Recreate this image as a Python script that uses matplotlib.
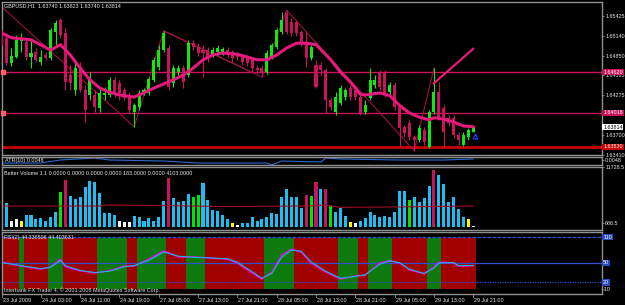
"""
GBPUSD H1 terminal screenshot: candles + MA, ATR, Better Volume, RSI panels.
Writes: out.png
"""

import matplotlib
matplotlib.use("Agg")
import matplotlib.pyplot as plt

plt.rcParams["font.family"] = ["Liberation Sans", "DejaVu Sans"]

# ---- candles, one per H1 bar (bar 0 = 23 Jul 19:00) ----
opens = [1.6515, 1.6511, 1.6474, 1.6483, 1.6506, 1.6505, 1.6483, 1.6490, 1.6476, 1.6486,
         1.6482, 1.6519, 1.6537, 1.6518, 1.6457, 1.6435, 1.6469, 1.6435, 1.6428, 1.6428,
         1.6409, 1.6428, 1.6428, 1.6450, 1.6445, 1.6435, 1.6428, 1.6403, 1.6411, 1.6431,
         1.6431, 1.6450, 1.6469, 1.6493, 1.6496, 1.6445, 1.6461, 1.6467, 1.6457, 1.6503,
         1.6498, 1.6493, 1.6493, 1.6486, 1.6490, 1.6490, 1.6493, 1.6490, 1.6486, 1.6483,
         1.6482, 1.6479, 1.6467, 1.6467, 1.6461, 1.6483, 1.6498, 1.6519, 1.6547, 1.6534,
         1.6534, 1.6519, 1.6503, 1.6482, 1.6471, 1.6471, 1.6464, 1.6421, 1.6403, 1.6416,
         1.6425, 1.6438, 1.6435, 1.6425, 1.6403, 1.6424, 1.6442, 1.6461, 1.6460, 1.6432,
         1.6442, 1.6411, 1.6382, 1.6387, 1.6367, 1.6363, 1.6377, 1.6353, 1.6403, 1.6432,
         1.6409, 1.6395, 1.6395, 1.6370, 1.6355, 1.6367, 1.63740]
highs = [1.6522, 1.6518, 1.6496, 1.6515, 1.6518, 1.6511, 1.6508, 1.6496, 1.6493, 1.6490,
         1.6525, 1.6537, 1.6540, 1.6525, 1.6471, 1.6476, 1.6476, 1.6442, 1.6461, 1.6435,
         1.6438, 1.6440, 1.6454, 1.6454, 1.6450, 1.6440, 1.6432, 1.6416, 1.6435, 1.6438,
         1.6454, 1.6483, 1.6501, 1.6521, 1.6501, 1.6471, 1.6471, 1.6471, 1.6508, 1.6508,
         1.6503, 1.6501, 1.6498, 1.6498, 1.6501, 1.6498, 1.6498, 1.6493, 1.6490, 1.6486,
         1.6486, 1.6483, 1.6471, 1.6471, 1.6493, 1.6503, 1.6525, 1.6548, 1.6551, 1.6540,
         1.6537, 1.6522, 1.6519, 1.6501, 1.6479, 1.6476, 1.6467, 1.6425, 1.6432, 1.6442,
         1.6438, 1.6442, 1.6440, 1.6428, 1.6421, 1.6467, 1.6457, 1.6464, 1.6464, 1.6447,
         1.6447, 1.6413, 1.6384, 1.6392, 1.6370, 1.6384, 1.6382, 1.6406, 1.6467, 1.6447,
         1.6413, 1.6399, 1.6399, 1.6374, 1.6374, 1.6380, 1.63823]
lows = [1.6501, 1.6471, 1.6470, 1.6482, 1.6490, 1.6479, 1.6467, 1.6476, 1.6471, 1.6479,
        1.6479, 1.6498, 1.6511, 1.6435, 1.6435, 1.6428, 1.6432, 1.6389, 1.6421, 1.6403,
        1.6403, 1.6421, 1.6425, 1.6425, 1.6421, 1.6421, 1.6402, 1.6382, 1.6406, 1.6428,
        1.6428, 1.6447, 1.6464, 1.6490, 1.6435, 1.6440, 1.6457, 1.6438, 1.6454, 1.6493,
        1.6485, 1.6454, 1.6476, 1.6483, 1.6486, 1.6486, 1.6483, 1.6476, 1.6479, 1.6471,
        1.6470, 1.6461, 1.6460, 1.6454, 1.6458, 1.6480, 1.6495, 1.6516, 1.6516, 1.6514,
        1.6514, 1.6499, 1.6469, 1.6479, 1.6438, 1.6457, 1.6402, 1.6406, 1.6399, 1.6413,
        1.6421, 1.6421, 1.6421, 1.6399, 1.6400, 1.6421, 1.6438, 1.6435, 1.6425, 1.6428,
        1.6406, 1.6353, 1.6367, 1.6363, 1.6347, 1.6360, 1.6355, 1.6351, 1.6400, 1.6392,
        1.6353, 1.6383, 1.6366, 1.6355, 1.6354, 1.6363, 1.63740]
closes = [1.6505, 1.6474, 1.6485, 1.6508, 1.6508, 1.6483, 1.6489, 1.6479, 1.6483, 1.6482,
          1.6522, 1.6532, 1.6515, 1.6447, 1.6445, 1.6467, 1.6435, 1.6406, 1.6450, 1.6411,
          1.6431, 1.6431, 1.6450, 1.6431, 1.6431, 1.6424, 1.6406, 1.6413, 1.6431, 1.6435,
          1.6451, 1.6479, 1.6493, 1.6518, 1.6440, 1.6467, 1.6467, 1.6447, 1.6503, 1.6498,
          1.6489, 1.6489, 1.6482, 1.6493, 1.6496, 1.6495, 1.6486, 1.6482, 1.6483, 1.6476,
          1.6474, 1.6467, 1.6464, 1.6461, 1.6489, 1.6501, 1.6522, 1.6537, 1.6519, 1.6518,
          1.6518, 1.6503, 1.6482, 1.6498, 1.6440, 1.6464, 1.6421, 1.6411, 1.6425, 1.6438,
          1.6435, 1.6425, 1.6425, 1.6402, 1.6413, 1.6450, 1.6450, 1.6440, 1.6428, 1.6442,
          1.6411, 1.6380, 1.6373, 1.6367, 1.6363, 1.6380, 1.6360, 1.6403, 1.6432, 1.6395,
          1.6374, 1.6387, 1.6370, 1.6363, 1.6370, 1.6377, 1.63814]

# moving average on price (read at selected bars)
ma_bars = [0, 2, 6, 10, 12, 14, 16, 18, 20, 22, 24, 27, 29, 31, 33, 35, 37, 39, 41, 43,
           45, 48, 50, 52, 54, 56, 58, 60, 62, 64, 67, 69, 71, 73, 74, 77, 79, 81, 83, 85,
           87, 88, 90, 92, 94, 96]
ma_vals = [1.6518, 1.6511, 1.6508, 1.6493, 1.6501, 1.6486, 1.6467, 1.6450, 1.6438, 1.6432,
           1.6428, 1.6425, 1.6431, 1.6438, 1.6444, 1.6450, 1.6457, 1.6467, 1.6479, 1.6486,
           1.6489, 1.6487, 1.6483, 1.6479, 1.6479, 1.6486, 1.6496, 1.6503, 1.6503, 1.6501,
           1.6479, 1.6461, 1.6447, 1.6429, 1.6428, 1.6431, 1.6427, 1.6413, 1.6402, 1.6396,
           1.6392, 1.6395, 1.6393, 1.6389, 1.6383, 1.6382]

# zigzag pivots, extra channel line, user trend line
zz_bars = [0, 27, 33, 53, 58, 84, 88]
zz_vals = [1.6556, 1.6382, 1.6521, 1.6454, 1.6551, 1.6347, 1.6467]
chan_bars = [33, 51]
chan_vals = [1.6521, 1.6461]
trend_bars = [88, 96]
trend_vals = [1.6445, 1.6495]

levels = [1.6461, 1.6402]
level_labels = ["1.64620", "1.64018"]
support = 1.6353
support_label = "1.63530"
last_price = 1.63814
# 1.63985 sits under the 1.64018 tag in the terminal, so it is left out
price_ticks = [1.65425, 1.65140, 1.64850, 1.64565, 1.64275, 1.63700, 1.63410]

# ATR(10)
atr_bars = [0, 8, 12, 19, 22, 33, 40, 54, 55, 57, 65, 66, 69, 81, 90, 96]
atr_vals = [0.0042, 0.0042, 0.0048, 0.0052, 0.0048, 0.0046, 0.0042, 0.0042, 0.0038, 0.0046,
            0.0044, 0.0052, 0.0050, 0.0048, 0.0048, 0.0050]

# Better Volume
volumes = [2340, 4680, 1170, 1560, 1170, 2340, 2340, 1560, 1755, 1170,
           1950, 2925, 6825, 9165, 6045, 5460, 5850, 7800, 8970, 8775,
           6630, 2730, 2730, 2340, 1170, 975, 975, 2145, 1950, 1170,
           1755, 1170, 1950, 5070, 9555, 5655, 4875, 5070, 6435, 5850,
           6240, 8580, 5265, 3315, 3120, 2340, 1560, 780, 390, 780,
           780, 1950, 1170, 1560, 1950, 2730, 2535, 5850, 7410, 5850,
           5850, 3705, 6240, 6045, 8775, 7410, 7410, 4095, 2925, 3705,
           2145, 975, 780, 1170, 1755, 2925, 2340, 1950, 2145, 1950,
           2925, 7020, 7020, 5265, 5850, 4875, 5655, 7995, 11115, 10140,
           8385, 4875, 5850, 3510, 1950, 1560, 183]
vol_kinds = list("ccwwy" "ccccccc" "gr" "cccccccccc" "www" "ccccccc" "r" "cccc" "gg"
                 "cccccc" "yw" "ccccccccccccc" "rgrcrg" "ccc" "yw" "cccccccccc" "g"
                 "cccc" "r" "cccccc" "yw")
vma_bars = [0, 20, 21, 33, 45, 62, 66, 69, 78, 96]
vma_vals = [4100, 4100, 4300, 4200, 4000, 4100, 4300, 3850, 3900, 4103]

# RSI(2) with signal, green/red state bands
rsi_bars = [0, 4, 8, 10, 12, 13, 16, 19, 22, 25, 27, 30, 33, 36, 39, 42, 46, 48, 51, 53,
            55, 57, 59, 61, 63, 66, 69, 72, 74, 77, 79, 81, 83, 86, 88, 89, 92, 93, 96]
rsi_main = [52, 43, 36, 41, 59, 41, 32, 27, 32, 43, 43, 59, 78, 64, 64, 62, 59, 50, 27, 13,
            29, 68, 82, 75, 50, 29, 13, 20, 22, 50, 55, 50, 34, 25, 41, 52, 50, 43, 44]
rsi_signal = [51, 44, 37, 40, 56, 44, 33, 28, 31, 41, 44, 56, 75, 66, 63, 62, 60, 52, 30, 15,
              26, 63, 80, 77, 53, 31, 15, 19, 23, 47, 55, 51, 36, 26, 38, 50, 51, 44, 44]
green_bands = [(4, 4), (10, 12), (20, 25), (28, 33), (38, 41), (54, 59), (69, 72), (75, 79), (87, 89)]
rsi_levels = [110, 50, 5]
rsi_level_labels = ["110", "50", "20"]

time_ticks = [0, 8, 16, 24, 32, 40, 48, 56, 64, 72, 80, 88, 96]
time_labels = ["23 Jul 2009", "24 Jul 03:00", "24 Jul 11:00", "24 Jul 19:00", "27 Jul 05:00",
               "27 Jul 13:00", "27 Jul 21:00", "28 Jul 05:00", "28 Jul 13:00", "28 Jul 21:00",
               "29 Jul 05:00", "29 Jul 13:00", "29 Jul 21:00"]

# ---- style ----
W, H = 625, 305
BULL = "#14e614"
BEAR = "#c8145a"
MA_C = "#e6197d"
ZZ_C = "#a01040"
BORDER = "#909090"
TXT = "#e8e8e8"
FS = 3.9
XLIM = (0.1, 122.2)


def fx(x):
    return x / W


def fy(y):
    return 1 - y / H


def make_panel(fig, top, bottom):
    ax = fig.add_axes([fx(2), fy(bottom), fx(600), (bottom - top) / H])
    ax.set_facecolor("black")
    for s in ax.spines.values():
        s.set_color(BORDER)
        s.set_linewidth(1)
    ax.set_xlim(*XLIM)
    ax.set_xticks([])
    ax.yaxis.tick_right()
    ax.tick_params(axis="y", colors=BORDER, labelcolor=TXT, labelsize=FS, length=1.5, width=0.6, pad=0.8)
    return ax


def right_tag(ax, y, text, bg, fg="white"):
    ax.text(1.002, y, text, transform=ax.get_yaxis_transform(), ha="left", va="center",
            fontsize=FS, color=fg, clip_on=False, zorder=10,
            bbox=dict(facecolor=bg, edgecolor="none", pad=0.5))


fig = plt.figure(figsize=(W / 100, H / 100), dpi=100, facecolor="black")

# main price panel
ax = make_panel(fig, 2, 155)
ax.set_ylim(1.63410, 1.65628)
ax.set_yticks(price_ticks)
ax.set_yticklabels([f"{p:.5f}" for p in price_ticks])

for lv in levels:
    ax.axhline(lv, color=BEAR, lw=1, zorder=1)
    ax.plot([XLIM[0] + 0.3], [lv], marker="s", ms=2.5, color="#ff6070", clip_on=False, zorder=3)
ax.axhline(support, color="#c80000", lw=2, zorder=1)

ax.plot(zz_bars, zz_vals, color=ZZ_C, lw=0.8, zorder=2)
ax.plot(chan_bars, chan_vals, color=ZZ_C, lw=0.8, zorder=2)

for i in range(len(opens)):
    o, h, l, c = opens[i], highs[i], lows[i], closes[i]
    col = BULL if c >= o else BEAR
    ax.vlines(i, l, h, color=col, lw=0.8, zorder=3)
    body = max(abs(c - o), 0.00006)
    ax.bar(i, body, bottom=min(o, c), width=0.62, color=col, lw=0, zorder=4)

ax.plot(ma_bars, ma_vals, color=MA_C, lw=2.2, zorder=5, solid_capstyle="round")
ax.plot(trend_bars, trend_vals, color=MA_C, lw=1.6, zorder=5)
ax.plot([96.3], [1.6368], marker="^", ms=3.5, mfc="none", mec="#2040ff", mew=0.9, zorder=6)

for lv, lab in zip(levels, level_labels):
    right_tag(ax, lv, lab, BEAR)
right_tag(ax, support, support_label, "#c80000")
right_tag(ax, last_price, f"{last_price:.5f}", "white", fg="black")

fig.text(fx(4), fy(6), "GBPUSD,H1  1.63740 1.63823 1.63740 1.63814", color=TXT,
         fontsize=FS, va="center", ha="left")

# ATR panel
ax_atr = make_panel(fig, 157, 165)
ax_atr.set_ylim(0.0038, 0.0054)
ax_atr.set_yticks([0.0048])
ax_atr.set_yticklabels(["0.0048"])
ax_atr.plot(atr_bars, atr_vals, color="#2a6ad0", lw=0.8)
fig.text(fx(5), fy(160.5), "ATR(10) 0.0048", color=TXT, fontsize=FS, va="center", ha="left")

# volume panel
ax_vol = make_panel(fig, 167, 230)
ax_vol.set_ylim(-586, 11728.5)
ax_vol.set_yticks([11728.5, 686.5])
ax_vol.set_yticklabels(["11728.5", "686.5"])
kind_colors = {"c": "#1ebef0", "w": "white", "y": "#ffff00", "g": "#00e600", "r": BEAR}
ax_vol.bar(range(len(volumes)), volumes, width=0.62, lw=0,
           color=[kind_colors[k] for k in vol_kinds])
ax_vol.plot(vma_bars, vma_vals, color="#a0102a", lw=0.8)
fig.text(fx(4), fy(173.5),
         "Better Volume 1.1 0.0000 0.0000 0.0000 0.0000 183.0000 0.0000 4103.0000",
         color=TXT, fontsize=FS, va="center", ha="left")

# RSI panel
ax_rsi = make_panel(fig, 232, 294)
ax_rsi.set_ylim(-21.6, 121.6)
ax_rsi.set_yticks([])
n = len(opens)
is_green = [False] * n
for a, b in green_bands:
    for k in range(a, b + 1):
        is_green[k] = True
ax_rsi.bar(range(n), 118, bottom=-10, width=1.0, lw=0,
           color=["#0c7a0c" if g else "#a00000" for g in is_green], zorder=1)
for lv, style in zip(rsi_levels, [(0, (3, 1)), "-", (0, (1, 1))]):
    ax_rsi.axhline(lv, color="#3050d0", lw=0.9, ls=style, zorder=2)
ax_rsi.plot(rsi_bars, rsi_main, color="#ff00ff", lw=1.0, zorder=3)
ax_rsi.plot(rsi_bars, rsi_signal, color="#00c8d8", lw=0.7, zorder=4)
for lv, lab in zip(rsi_levels, rsi_level_labels):
    right_tag(ax_rsi, lv, lab, "#2848c0")
ax_rsi.text(1.002, -12, "-10", transform=ax_rsi.get_yaxis_transform(), ha="left",
            va="center", fontsize=FS, color=TXT, clip_on=False)
fig.text(fx(4), fy(238), "RSI(2) 44.338596 44.403631", color=TXT, fontsize=FS,
         va="center", ha="left")
fig.text(fx(4), fy(290), "Interbank FX Trader 4, \u00a9 2001-2008 MetaQuotes Software Corp.",
         color=TXT, fontsize=FS, va="center", ha="left", zorder=10)

# time axis
for t, lab in zip(time_ticks, time_labels):
    xp = 2 + (t - XLIM[0]) / (XLIM[1] - XLIM[0]) * 600
    fig.add_artist(plt.Line2D([fx(xp), fx(xp)], [fy(294), fy(297)], color=BORDER, lw=0.6))
    fig.text(fx(xp + 1), fy(300), lab, color=TXT, fontsize=FS, va="center", ha="left")

fig.savefig("out.png", dpi=100, facecolor="black")
